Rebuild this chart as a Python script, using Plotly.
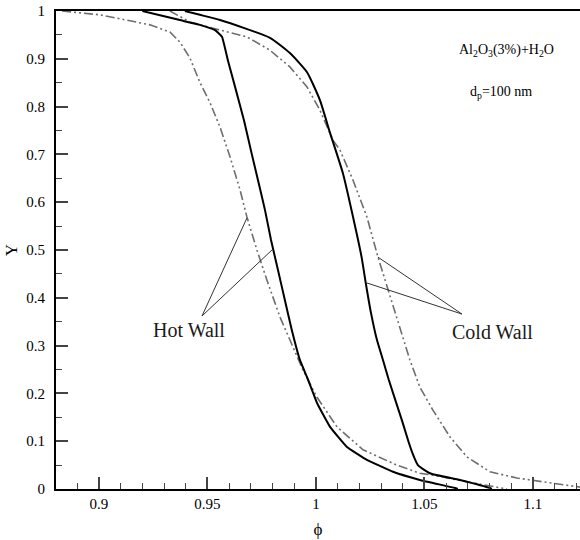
import plotly.graph_objects as go

# ---- data ----
hot_solid_phi = [0.9200, 0.9373, 0.9465, 0.9535, 0.9567, 0.9594, 0.9631, 0.9668, 0.9700, 0.9733, 0.9765,
                 0.9793, 0.9825, 0.9857, 0.9889, 0.9926, 0.9959, 1.0005, 1.0065, 1.0143, 1.0235, 1.0355,
                 1.0479, 1.0641, 1.0654]
hot_solid_y = [1.0, 0.981, 0.971, 0.960, 0.946, 0.897, 0.835, 0.772, 0.709, 0.646, 0.584,
               0.521, 0.458, 0.395, 0.332, 0.270, 0.234, 0.180, 0.130, 0.088, 0.061, 0.036,
               0.019, 0.002, 0.0]

hot_dash_phi = [0.8830, 0.9005, 0.9235, 0.9327, 0.9373, 0.9419, 0.9465, 0.9512, 0.9558, 0.9604, 0.9650,
                0.9682, 0.9728, 0.9774, 0.9834, 0.9880, 0.9940, 1.0005, 1.0097, 1.0217, 1.0373, 1.0479,
                1.0539, 1.0696, 1.0848, 1.0880]
hot_dash_y = [1.0, 0.992, 0.971, 0.956, 0.935, 0.902, 0.851, 0.808, 0.757, 0.695, 0.626,
              0.569, 0.500, 0.437, 0.360, 0.312, 0.249, 0.192, 0.130, 0.082, 0.050, 0.033,
              0.029, 0.015, 0.002, 0.0]

cold_solid_phi = [0.9396, 0.9465, 0.9558, 0.9788, 0.9880, 0.9959, 1.0018, 1.0065, 1.0124, 1.0171, 1.0210,
                  1.0230, 1.0253, 1.0281, 1.0309, 1.0336, 1.0396, 1.0426, 1.0445, 1.0470, 1.0525, 1.0664,
                  1.0802, 1.0810]
cold_solid_y = [1.0, 0.992, 0.981, 0.944, 0.912, 0.872, 0.814, 0.745, 0.661, 0.569, 0.486,
                0.430, 0.370, 0.312, 0.270, 0.228, 0.144, 0.100, 0.075, 0.050, 0.033, 0.019,
                0.002, 0.0]

cold_dash_phi = [0.9327, 0.9419, 0.9558, 0.9682, 0.9788, 0.9880, 0.9959, 1.0018, 1.0078, 1.0111, 1.0171,
                 1.0235, 1.0286, 1.0332, 1.0373, 1.0433, 1.0479, 1.0539, 1.0618, 1.0696, 1.0802, 1.0926,
                 1.1078, 1.1217]
cold_dash_y = [1.0, 0.977, 0.960, 0.946, 0.918, 0.883, 0.841, 0.793, 0.730, 0.709, 0.646,
               0.569, 0.485, 0.416, 0.360, 0.270, 0.213, 0.165, 0.109, 0.067, 0.036, 0.023,
               0.013, 0.004]

x_tick_vals = [0.9, 0.95, 1.0, 1.05, 1.1]
x_tick_text = ["0.9", "0.95", "1", "1.05", "1.1"]
y_tick_vals = [0, 0.1, 0.2, 0.3, 0.4, 0.5, 0.6, 0.7, 0.8, 0.9, 1.0]
y_tick_text = ["0", "0.1", "0.2", "0.3", "0.4", "0.5", "0.6", "0.7", "0.8", "0.9", "1"]

# leader-line label anchors (data coordinates)
hot_label = (0.9475, 0.362)
hot_targets = [(0.9682, 0.567), (0.9802, 0.502)]
cold_label = (1.0673, 0.366)
cold_targets = [(1.0286, 0.485), (1.0235, 0.431)]

FONT = "Times New Roman, Liberation Serif, DejaVu Serif, serif"
DASH = "9px,3px,2px,3px,2px,3px"

fig = go.Figure()
fig.add_trace(go.Scatter(x=hot_dash_phi, y=hot_dash_y, mode="lines",
                         line=dict(color="#6e6e6e", width=1.6, dash=DASH), showlegend=False))
fig.add_trace(go.Scatter(x=cold_dash_phi, y=cold_dash_y, mode="lines",
                         line=dict(color="#6e6e6e", width=1.6, dash=DASH), showlegend=False))
fig.add_trace(go.Scatter(x=hot_solid_phi, y=hot_solid_y, mode="lines",
                         line=dict(color="black", width=2, shape="spline", smoothing=0.3), showlegend=False))
fig.add_trace(go.Scatter(x=cold_solid_phi, y=cold_solid_y, mode="lines",
                         line=dict(color="black", width=2, shape="spline", smoothing=0.5), showlegend=False))

shapes = []
for (lx, ly), targets in [(hot_label, hot_targets), (cold_label, cold_targets)]:
    for tx, ty in targets:
        shapes.append(dict(type="line", xref="x", yref="y", x0=lx, y0=ly, x1=tx, y1=ty,
                           line=dict(color="#333333", width=1)))

annotations = [
    dict(x=0.9415, y=0.333, xref="x", yref="y", text="Hot Wall", showarrow=False,
         font=dict(family=FONT, size=20, color="#1a1a1a")),
    dict(x=1.0816, y=0.329, xref="x", yref="y", text="Cold Wall", showarrow=False,
         font=dict(family=FONT, size=20, color="#1a1a1a")),
    dict(x=1.0880, y=0.917, xref="x", yref="y", text="Al<sub>2</sub>O<sub>3</sub>(3%)+H<sub>2</sub>O",
         showarrow=False, font=dict(family=FONT, size=14, color="black")),
    dict(x=1.0852, y=0.829, xref="x", yref="y", text="d<sub>p</sub>=100 nm",
         showarrow=False, font=dict(family=FONT, size=14, color="black")),
]

fig.update_layout(
    width=580, height=540,
    margin=dict(l=56, r=0, t=11, b=51),
    paper_bgcolor="white", plot_bgcolor="white",
    font=dict(family=FONT, size=14, color="black"),
    shapes=shapes, annotations=annotations,
    xaxis=dict(range=[0.8802, 1.1217], tickvals=x_tick_vals, ticktext=x_tick_text,
               ticks="inside", ticklen=12, tickwidth=1.5, tickcolor="#444",
               minor=dict(dtick=0.01, tick0=0.9, ticks="inside", ticklen=6, tickwidth=1, tickcolor="#444"),
               showline=True, linecolor="black", linewidth=2, mirror=True,
               showgrid=False, zeroline=False,
               title=dict(text="ϕ", font=dict(family=FONT, size=17), standoff=12),
               tickfont=dict(family=FONT, size=15)),
    yaxis=dict(range=[0, 1], tickvals=y_tick_vals, ticktext=y_tick_text,
               ticks="inside", ticklen=12, tickwidth=1.5, tickcolor="#444",
               minor=dict(dtick=0.05, tick0=0, ticks="inside", ticklen=6, tickwidth=1, tickcolor="#444"),
               showline=True, linecolor="black", linewidth=2, mirror=False,
               showgrid=False, zeroline=False, ticklabelstandoff=6,
               title=dict(text="Y", font=dict(family=FONT, size=17), standoff=4),
               tickfont=dict(family=FONT, size=15)),
)

fig.write_html("out.html")
